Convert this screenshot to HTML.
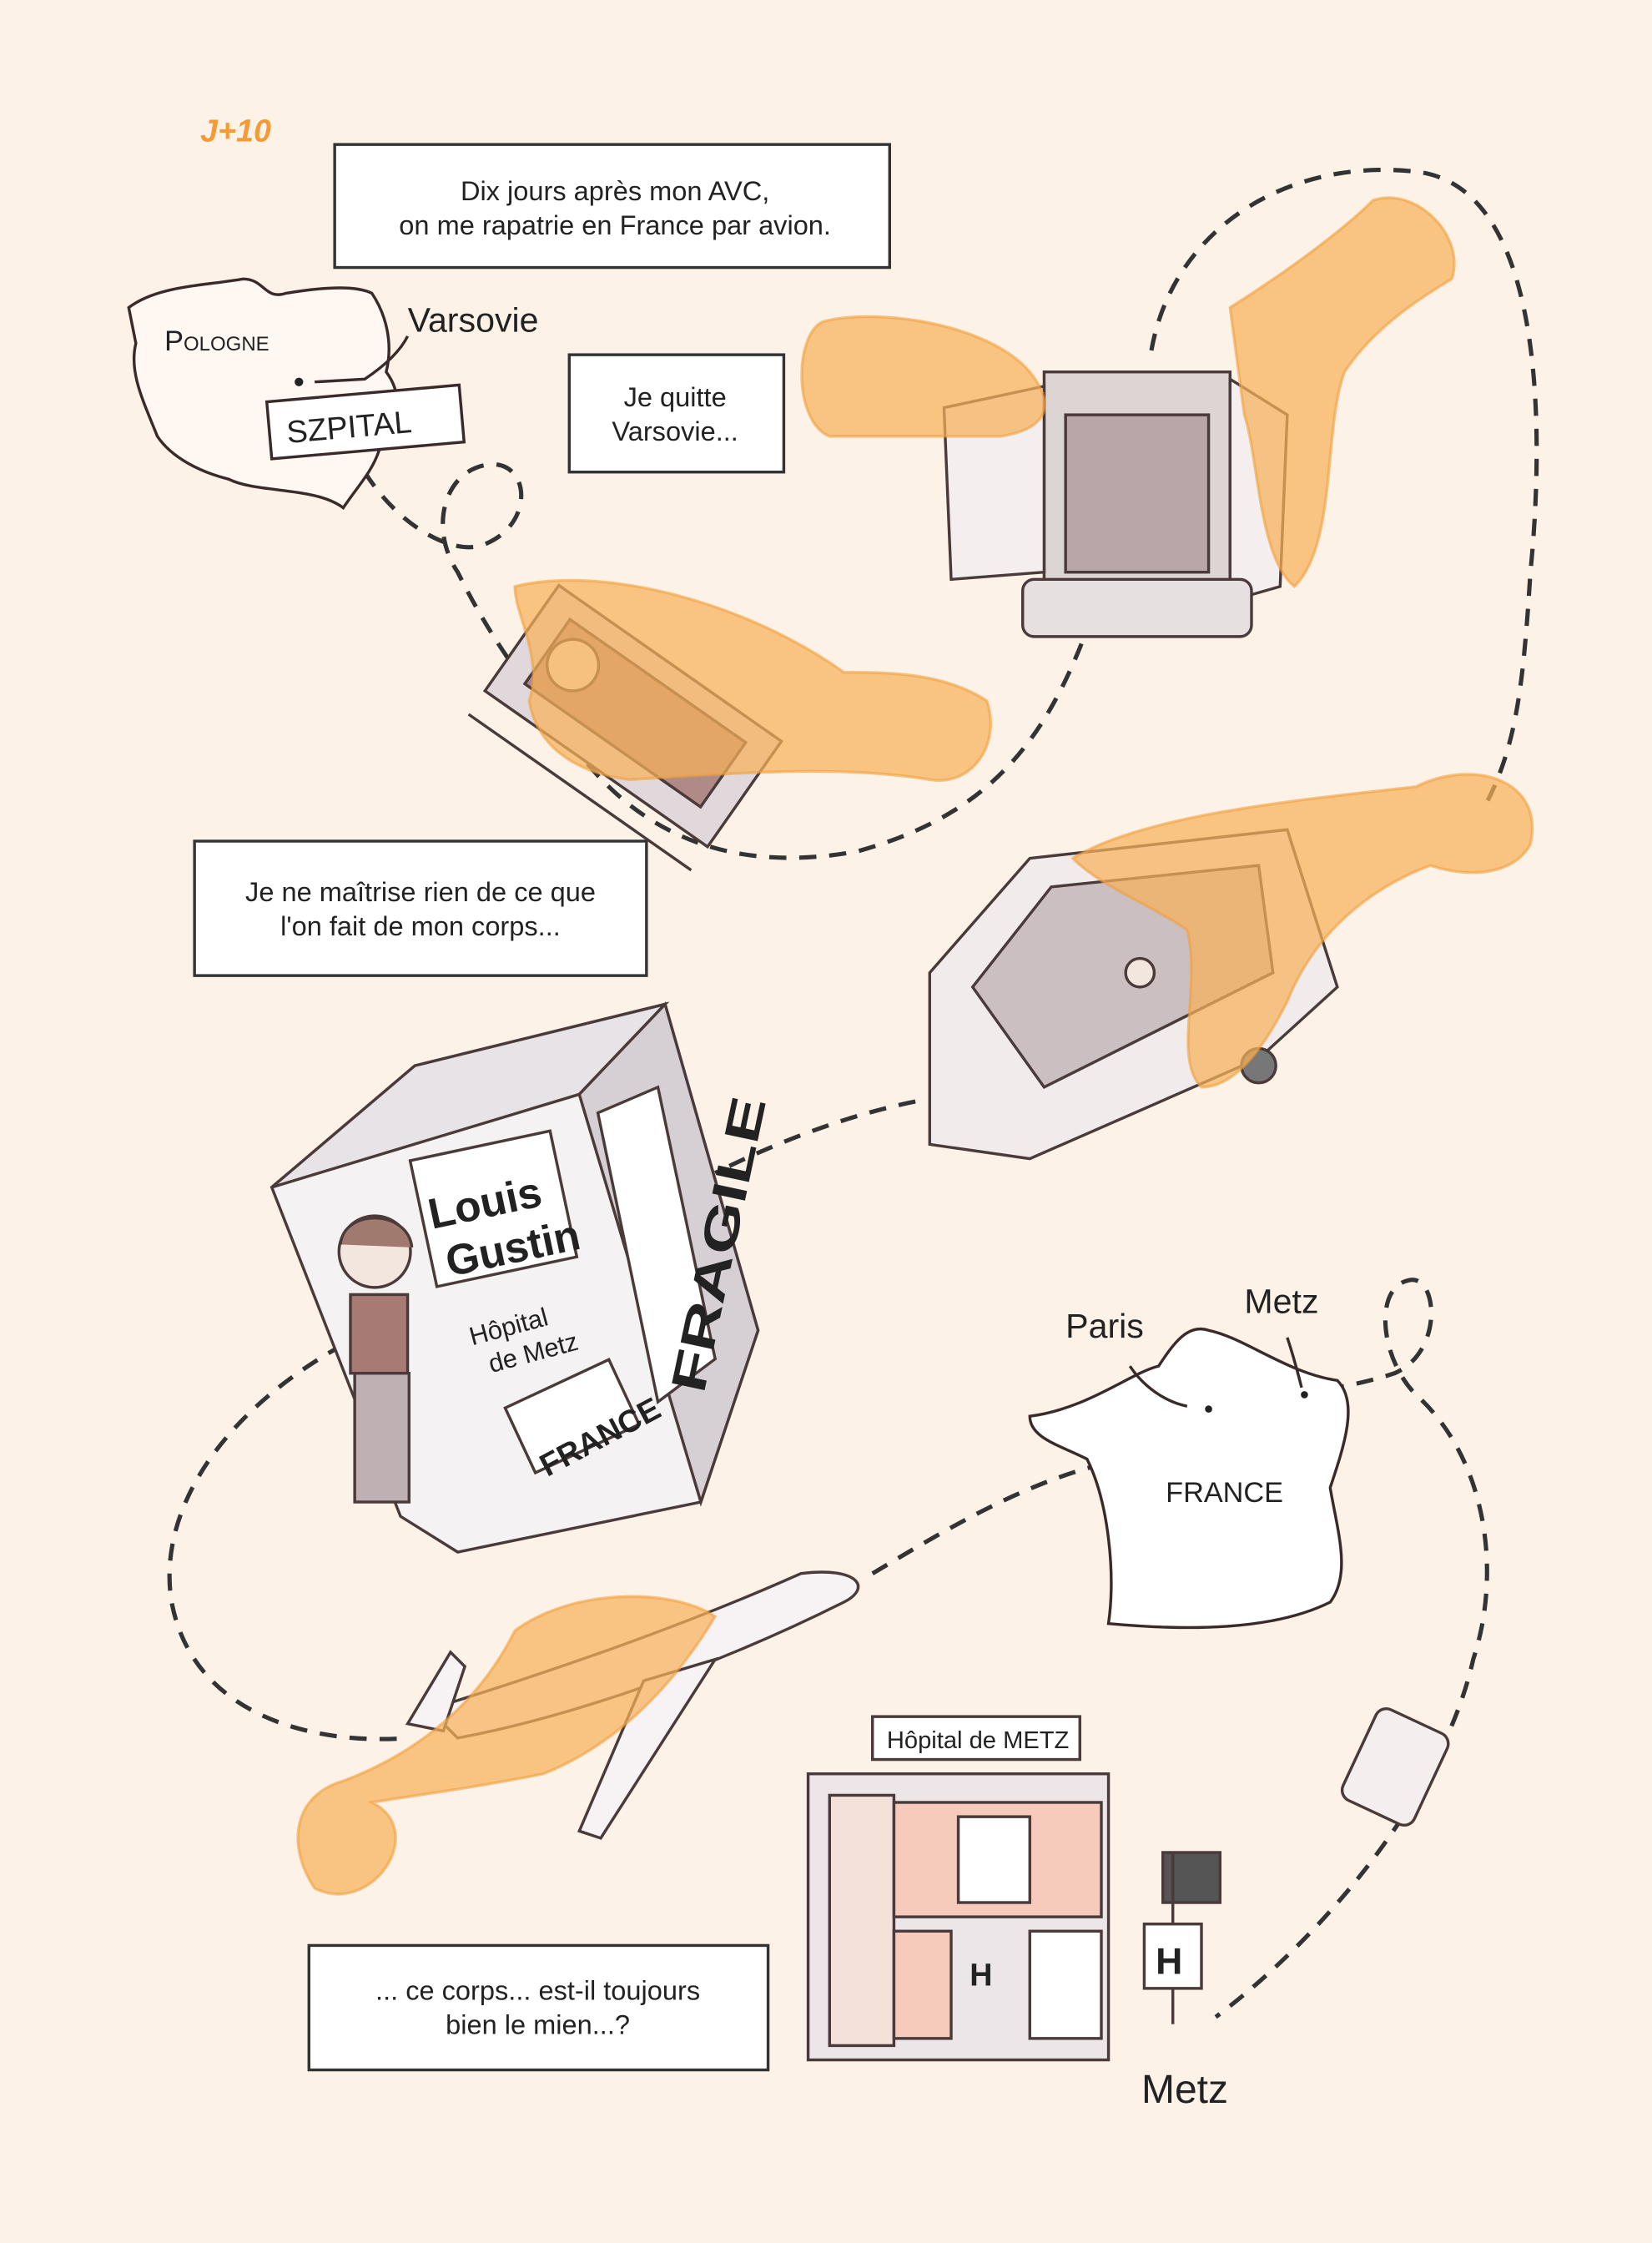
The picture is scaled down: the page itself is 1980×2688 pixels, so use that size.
<!DOCTYPE html>
<html><head><meta charset="utf-8"><style>
html,body{margin:0;padding:0;background:#fdf2e7}
svg{display:block}
text{font-family:"Liberation Sans",sans-serif;fill:#222}
</style></head><body>
<svg width="1980" height="2688" viewBox="0 0 1155 1568" xmlns="http://www.w3.org/2000/svg">
<rect width="1155" height="1568" fill="#fdf2e7"/>
<text x="140" y="99" font-size="22" font-weight="bold" font-style="italic" fill="#f59a35" style="fill:#f59a35">J+10</text>

<g fill="none" stroke="#333" stroke-width="3" stroke-dasharray="12,9">
<path d="M255 330 C280 370 320 390 340 380 C375 365 370 320 340 325 C310 330 300 370 320 400 C340 440 360 470 400 520 C450 590 520 610 600 595 C690 570 730 520 760 440"/>
<path d="M805 245 C820 160 900 110 990 120 C1080 130 1080 300 1070 400 C1065 480 1060 520 1040 560"/>
<path d="M640 770 C590 780 540 800 500 820"/>
<path d="M240 940 C150 990 110 1060 120 1120 C135 1200 220 1220 285 1215"/>
<path d="M610 1100 C660 1070 710 1040 765 1025"/>
<path d="M845 985 C880 975 930 975 975 960 C1010 945 1005 890 985 895 C960 900 965 950 990 975 C1040 1020 1050 1100 1030 1160 C1010 1250 930 1350 850 1410"/>
</g>

<path d="M90 215 C110 200 140 200 170 195 C185 195 185 210 200 205 C230 200 250 200 260 205 C270 220 275 240 270 260 C285 280 275 300 265 315 C260 330 250 340 240 355 C220 340 180 345 160 335 C140 330 120 320 110 305 C100 280 90 260 95 240 Z" fill="#fff8f2" stroke="#3a2a2a" stroke-width="2"/>
<text x="115" y="245" font-size="20" style="font-variant:small-caps">Pologne</text>
<circle cx="209" cy="267" r="3" fill="#222"/>
<path d="M220 267 L255 265 C270 255 280 245 285 235" stroke="#3a2a2a" stroke-width="2" fill="none"/>
<text x="285" y="232" font-size="24" fill="#3a2a2a">Varsovie</text>
<g transform="rotate(-5 255 295)"><rect x="188" y="275" width="135" height="40" fill="#fff" stroke="#3a2a2a" stroke-width="2"/>
<text x="200" y="305" font-size="22" fill="#3a2a2a">SZPITAL</text></g>

<rect x="234" y="101" width="388" height="86" fill="#fff" stroke="#333" stroke-width="2"/>
<text x="430" y="140" font-size="19" text-anchor="middle">Dix jours après mon AVC,</text>
<text x="430" y="164" font-size="19" text-anchor="middle">on me rapatrie en France par avion.</text>
<rect x="398" y="248" width="150" height="82" fill="#fff" stroke="#333" stroke-width="2"/>
<text x="472" y="284" font-size="19" text-anchor="middle">Je quitte</text>
<text x="472" y="308" font-size="19" text-anchor="middle">Varsovie...</text>
<rect x="136" y="588" width="316" height="94" fill="#fff" stroke="#333" stroke-width="2"/>
<text x="294" y="630" font-size="19" text-anchor="middle">Je ne maîtrise rien de ce que</text>
<text x="294" y="654" font-size="19" text-anchor="middle">l'on fait de mon corps...</text>
<rect x="216" y="1360" width="321" height="87" fill="#fff" stroke="#333" stroke-width="2"/>
<text x="376" y="1398" font-size="19" text-anchor="middle">... ce corps... est-il toujours</text>
<text x="376" y="1422" font-size="19" text-anchor="middle">bien le mien...?</text>

<g stroke="#4a3a3a" stroke-width="2">
<rect x="730" y="260" width="130" height="160" fill="#ddd4d4"/>
<rect x="745" y="290" width="100" height="110" fill="#b9a6a8"/>
<polygon points="660,285 730,270 730,400 665,405" fill="#f4eeee"/>
<polygon points="860,265 900,290 895,410 860,420" fill="#f4eeee"/>
<rect x="715" y="405" width="160" height="40" rx="8" fill="#e6e0e0"/>
</g>
<g stroke="#4a3a3a" stroke-width="2" transform="rotate(35 430 510)">
<rect x="340" y="450" width="190" height="90" fill="#e0d8da"/>
<rect x="360" y="465" width="150" height="55" fill="#b08a86"/>
<circle cx="380" cy="490" r="18" fill="#f3e6df"/>
<line x1="340" y1="560" x2="530" y2="560"/>
</g>
<g stroke="#4a3a3a" stroke-width="2">
<polygon points="650,680 720,600 900,580 935,690 880,740 720,810 650,800" fill="#f1ebec"/>
<polygon points="680,690 735,620 880,605 890,680 730,760" fill="#cbbfc2"/>
<circle cx="797" cy="680" r="10" fill="#f3e6df"/>
<circle cx="880" cy="745" r="12" fill="#777"/>
</g>
<g stroke="#4a3a3a" stroke-width="2">
<polygon points="190,830 290,745 465,702 530,930 490,1050 320,1085 280,1060" fill="#f5f2f3"/>
<polygon points="190,830 290,745 465,702 405,765" fill="#e8e3e6"/>
<polygon points="405,765 465,702 530,930 490,1050" fill="#d6d0d5"/>
<polygon points="418,778 460,760 500,950 460,980" fill="#fff"/>
<rect x="295" y="800" width="100" height="90" fill="#fff" transform="rotate(-12 345 845)"/>
<rect x="360" y="965" width="80" height="50" fill="#fff" transform="rotate(-25 400 990)"/>
<circle cx="262" cy="875" r="25" fill="#f3e6df"/>
<path d="M238 870 C240 845 285 845 288 872" fill="#a07a6e"/>
<rect x="245" y="905" width="40" height="55" fill="#a77a74"/>
<rect x="248" y="960" width="38" height="90" fill="#bfb0b4"/>
</g>
<text x="300" y="850" font-size="30" font-weight="bold" transform="rotate(-12 345 845)">Louis</text>
<text x="305" y="885" font-size="30" font-weight="bold" transform="rotate(-12 345 845)">Gustin</text>
<text x="330" y="930" font-size="18" transform="rotate(-15 370 935)">Hôpital</text>
<text x="338" y="952" font-size="18" transform="rotate(-15 370 935)">de Metz</text>
<text x="367" y="1020" font-size="22" font-weight="bold" transform="rotate(-28 400 995)">FRANCE</text>
<text x="492" y="975" font-size="34" font-weight="bold" textLength="210" lengthAdjust="spacingAndGlyphs" transform="rotate(-78 492 975)">FRAGILE</text>
<path d="M720 990 C760 985 790 960 810 955 C820 940 830 925 845 930 C870 935 900 960 935 965 C950 980 940 1010 930 1040 C935 1070 945 1100 930 1120 C890 1140 830 1140 775 1135 C780 1100 775 1050 760 1020 C740 1010 720 1005 720 990 Z" fill="#fff" stroke="#3a2a2a" stroke-width="2"/>
<text x="815" y="1050" font-size="20">FRANCE</text>
<text x="745" y="935" font-size="24" fill="#3a2a2a">Paris</text>
<text x="870" y="918" font-size="24" fill="#3a2a2a">Metz</text>
<circle cx="845" cy="985" r="2.5" fill="#222"/><circle cx="912" cy="975" r="2.5" fill="#222"/>
<path d="M790 955 C800 970 815 980 830 983 M900 935 C905 950 908 962 910 970" stroke="#3a2a2a" stroke-width="2" fill="none"/>
<g stroke="#4a3a3a" stroke-width="2">
<path d="M300 1195 C380 1170 470 1140 560 1100 C600 1095 610 1110 590 1120 C500 1165 400 1200 320 1215 Z" fill="#f7f2f3"/>
<polygon points="450,1175 500,1160 420,1285 405,1280" fill="#f7f2f3"/>
<polygon points="285,1205 315,1155 325,1165 310,1210" fill="#f7f2f3"/>
</g>
<g stroke="#4a3a3a" stroke-width="2">
<rect x="610" y="1200" width="145" height="30" fill="#fff"/>
<rect x="565" y="1240" width="210" height="200" fill="#ede6e8"/>
<rect x="580" y="1255" width="45" height="175" fill="#f4e2da"/>
<rect x="625" y="1260" width="145" height="80" fill="#f6cbbb"/>
<rect x="670" y="1270" width="50" height="60" fill="#fff"/>
<rect x="720" y="1350" width="50" height="75" fill="#fff"/>
<rect x="625" y="1350" width="40" height="75" fill="#f6cbbb"/>
<rect x="813" y="1295" width="40" height="35" fill="#555"/>
<line x1="820" y1="1295" x2="820" y2="1415"/>
<rect x="800" y="1345" width="40" height="45" fill="#fff"/>
<rect x="948" y="1200" width="55" height="70" rx="8" fill="#f4eeee" transform="rotate(25 975 1235)"/>
</g>
<text x="620" y="1222" font-size="17">Hôpital de METZ</text>
<text x="808" y="1380" font-size="26" font-weight="bold">H</text>
<text x="678" y="1388" font-size="22" font-weight="bold">H</text>
<text x="798" y="1470" font-size="28" fill="#3a2a2a">Metz</text>

<g fill="#f7b15a" fill-opacity="0.72" stroke="#f0a040" stroke-opacity="0.6" stroke-width="2">
<path d="M575 225 C610 215 690 225 720 260 C740 285 730 300 700 305 L580 305 C555 295 555 235 575 225 Z"/>
<path d="M860 215 C900 190 940 160 960 140 C990 130 1025 165 1015 195 C990 210 960 230 940 260 C925 300 935 380 905 410 C880 390 880 320 870 290 Z"/>
<path d="M360 410 C420 395 520 420 590 470 C620 470 660 470 690 490 C700 520 680 550 650 545 C590 535 520 540 440 545 C400 540 375 520 370 490 C380 460 360 430 360 410 Z"/>
<path d="M750 600 C800 570 900 560 990 550 C1030 530 1080 545 1070 590 C1060 610 1030 615 1000 605 C960 620 920 650 900 700 C880 740 860 760 840 760 C820 740 840 690 830 650 C800 630 770 620 750 600 Z"/>
<path d="M360 1140 C400 1110 470 1110 500 1130 C470 1180 430 1220 380 1240 C330 1250 290 1255 260 1260 C300 1280 260 1340 220 1320 C200 1290 205 1255 240 1245 C280 1230 330 1200 360 1140 Z"/>
</g>
</svg>
</body></html>
